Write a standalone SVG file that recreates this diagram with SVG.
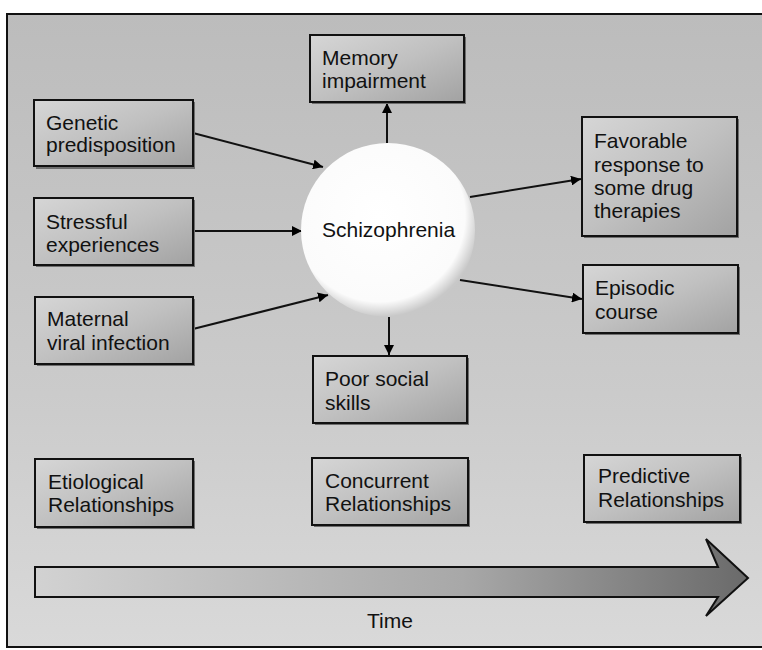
<svg xmlns="http://www.w3.org/2000/svg" width="762" height="650" viewBox="0 0 762 650">
<defs>
<linearGradient id="bg" x1="0" y1="0" x2="0" y2="1">
<stop offset="0" stop-color="#bcbcbc"/>
<stop offset="0.6" stop-color="#cbcbcb"/>
<stop offset="1" stop-color="#d9d9d9"/>
</linearGradient>
<linearGradient id="box" x1="0" y1="0" x2="1" y2="1">
<stop offset="0" stop-color="#d6d6d6"/>
<stop offset="0.5" stop-color="#c0c0c0"/>
<stop offset="1" stop-color="#a2a2a2"/>
</linearGradient>
<linearGradient id="timeg" x1="0" y1="0" x2="1" y2="0">
<stop offset="0" stop-color="#d2d2d2"/>
<stop offset="0.6" stop-color="#a8a8a8"/>
<stop offset="1" stop-color="#6a6a6a"/>
</linearGradient>
<radialGradient id="circ" cx="0.45" cy="0.42" r="0.58">
<stop offset="0" stop-color="#ffffff"/>
<stop offset="0.85" stop-color="#fbfbfb"/>
<stop offset="1" stop-color="#c8c8c8"/>
</radialGradient>
<marker id="ah" viewBox="0 0 10 10" refX="10" refY="5" markerWidth="10" markerHeight="10" markerUnits="userSpaceOnUse" orient="auto">
<path d="M0,0 L10,5 L0,10 Z" fill="#000"/>
</marker>
</defs>
<style>
.box{fill:url(#box);stroke:#111;stroke-width:2}
.sh{fill:#6e6e6e}
.t{font-family:"Liberation Sans",Arial,sans-serif;font-size:21px;fill:#111}
.c{stroke:#111;stroke-width:2;fill:none;marker-end:url(#ah)}
</style>
<rect x="0" y="0" width="762" height="650" fill="#ffffff"/>
<rect id="frame" x="7" y="14" width="760" height="633" fill="url(#bg)" stroke="#111" stroke-width="2"/>

<g id="connectors">
<line class="c" x1="193" y1="133" x2="323" y2="167"/>
<line class="c" x1="193" y1="231" x2="302" y2="231"/>
<line class="c" x1="193" y1="329" x2="328" y2="295"/>
<line class="c" x1="387" y1="143" x2="387" y2="103"/>
<line class="c" x1="470" y1="197" x2="581" y2="179"/>
<line class="c" x1="460" y1="280" x2="582" y2="299"/>
<line class="c" x1="389" y1="317" x2="389" y2="355"/>
</g>

<g id="schizophrenia">
<circle cx="388" cy="230" r="87" fill="url(#circ)"/>
<text class="t" x="322" y="237">Schizophrenia</text>
</g>

<g id="genetic">
<rect class="sh" x="36" y="102" width="159" height="67"/>
<rect class="box" x="34" y="100" width="159" height="66"/>
<text class="t" x="46" y="130">Genetic</text>
<text class="t" x="46" y="152">predisposition</text>
</g>
<g id="stressful">
<rect class="sh" x="36" y="200" width="159" height="67"/>
<rect class="box" x="34" y="198" width="159" height="67"/>
<text class="t" x="46" y="229">Stressful</text>
<text class="t" x="46" y="252">experiences</text>
</g>
<g id="maternal">
<rect class="sh" x="37" y="299" width="158" height="67"/>
<rect class="box" x="35" y="297" width="158" height="67"/>
<text class="t" x="47" y="326">Maternal</text>
<text class="t" x="47" y="350">viral infection</text>
</g>
<g id="memory">
<rect class="sh" x="312" y="37" width="154" height="67"/>
<rect class="box" x="310" y="35" width="154" height="67"/>
<text class="t" x="322" y="65">Memory</text>
<text class="t" x="322" y="88">impairment</text>
</g>
<g id="favorable">
<rect class="sh" x="584" y="119" width="155" height="119"/>
<rect class="box" x="582" y="117" width="155" height="119"/>
<text class="t" x="594" y="148">Favorable</text>
<text class="t" x="594" y="172">response to</text>
<text class="t" x="594" y="195">some drug</text>
<text class="t" x="594" y="218">therapies</text>
</g>
<g id="episodic">
<rect class="sh" x="585" y="267" width="155" height="68"/>
<rect class="box" x="583" y="265" width="155" height="68"/>
<text class="t" x="595" y="295">Episodic</text>
<text class="t" x="595" y="319">course</text>
</g>
<g id="poorsocial">
<rect class="sh" x="315" y="358" width="154" height="67"/>
<rect class="box" x="313" y="356" width="154" height="67"/>
<text class="t" x="325" y="386">Poor social</text>
<text class="t" x="325" y="410">skills</text>
</g>
<g id="etiological">
<rect class="sh" x="37" y="461" width="158" height="68"/>
<rect class="box" x="35" y="459" width="158" height="68"/>
<text class="t" x="48" y="489">Etiological</text>
<text class="t" x="48" y="512">Relationships</text>
</g>
<g id="concurrent">
<rect class="sh" x="314" y="460" width="156" height="67"/>
<rect class="box" x="312" y="458" width="156" height="67"/>
<text class="t" x="325" y="488">Concurrent</text>
<text class="t" x="325" y="511">Relationships</text>
</g>
<g id="predictive">
<rect class="sh" x="586" y="457" width="156" height="67"/>
<rect class="box" x="584" y="455" width="156" height="67"/>
<text class="t" x="598" y="483">Predictive</text>
<text class="t" x="598" y="507">Relationships</text>
</g>

<g id="time">
<polygon points="35,567 718,567 706,539 748,578 706,616 718,597 35,597" fill="url(#timeg)" stroke="#111" stroke-width="2" stroke-linejoin="miter"/>
<text class="t" x="367" y="628">Time</text>
</g>
</svg>
